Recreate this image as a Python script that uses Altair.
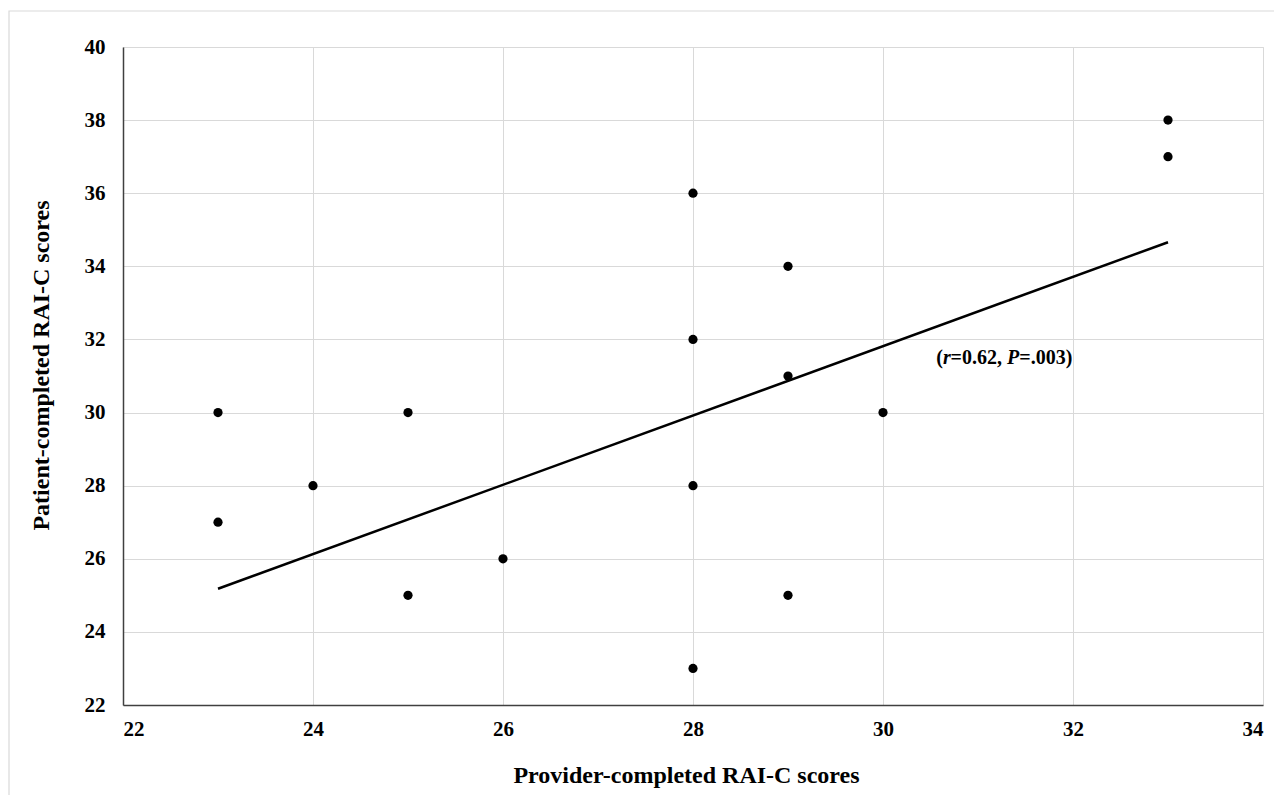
import altair as alt
import pandas as pd

# ---- data ----
provider = [23, 23, 24, 25, 25, 26, 28, 28, 28, 28, 29, 29, 29, 30, 33, 33]
patient = [30, 27, 28, 30, 25, 26, 36, 32, 28, 23, 34, 31, 25, 30, 38, 37]
trend_x = [23, 33]
trend_y = [25.18, 34.66]
x_ticks = [22, 24, 26, 28, 30, 32, 34]
y_ticks = [22, 24, 26, 28, 30, 32, 34, 36, 38, 40]
annot_x = 30.56
annot_y = 31.34
annot_parts = ["(", "r", "=0.62,", "P", "=.003)"]
annot_italic = [False, True, False, True, False]
annot_dx = [0, 6.7, 14.4, 70.8, 83.1]

FONT = "Liberation Serif"
W, H = 1140, 658

pts = pd.DataFrame({"x": provider, "y": patient})
trend = pd.DataFrame({"x": trend_x, "y": trend_y})

xscale = alt.Scale(domain=[22, 34], nice=False, zero=False)
yscale = alt.Scale(domain=[22, 40], nice=False, zero=False)

xaxis = alt.Axis(
    title="Provider-completed RAI-C scores",
    values=x_ticks, format="d", grid=True, gridColor="#d9d9d9", gridWidth=1,
    domainColor="#404040", domainWidth=1.5, ticks=False,
    labelFont=FONT, labelFontSize=21, labelFontWeight="bold", labelColor="#000000",
    labelPadding=13,
    titleFont=FONT, titleFontSize=24, titleFontWeight="bold", titleColor="#000000",
    titleX=563, titleY=77, titleBaseline="alphabetic", titleAnchor="middle",
)
yaxis = alt.Axis(
    title="Patient-completed RAI-C scores",
    values=y_ticks, format="d", grid=True, gridColor="#d9d9d9", gridWidth=1,
    domainColor="#404040", domainWidth=1.5, ticks=False,
    labelFont=FONT, labelFontSize=21, labelFontWeight="bold", labelColor="#000000",
    labelPadding=18,
    titleFont=FONT, titleFontSize=24, titleFontWeight="bold", titleColor="#000000",
    titleX=-75, titleY=318, titleBaseline="alphabetic", titleAngle=270, titleAnchor="middle",
)

frame = alt.Chart(pd.DataFrame({"a": [0]})).mark_rect(
    fill=None, stroke="#d9d9d9", strokeWidth=1.2
).encode(
    x=alt.value(-114), x2=alt.value(W + 40), y=alt.value(-36), y2=alt.value(H + 140)
)

points = alt.Chart(pts).mark_circle(size=85, color="#000000", opacity=1).encode(
    x=alt.X("x:Q", scale=xscale, axis=xaxis),
    y=alt.Y("y:Q", scale=yscale, axis=yaxis),
)

line = alt.Chart(trend).mark_line(color="#000000", strokeWidth=2.5).encode(
    x=alt.X("x:Q", scale=xscale), y=alt.Y("y:Q", scale=yscale)
)

texts = []
for part, it, dx in zip(annot_parts, annot_italic, annot_dx):
    texts.append(
        alt.Chart(pd.DataFrame({"x": [annot_x], "y": [annot_y], "t": [part]}))
        .mark_text(
            align="left", baseline="alphabetic", dx=dx, font=FONT, fontSize=20,
            fontWeight="bold", fontStyle="italic" if it else "normal", color="#000000",
        )
        .encode(x=alt.X("x:Q", scale=xscale), y=alt.Y("y:Q", scale=yscale), text="t:N")
    )

chart = alt.layer(frame, points, line, *texts).properties(
    width=W, height=H,
    autosize=alt.AutoSizeParams(type="none"),
    padding={"left": 115, "top": 39, "right": 11, "bottom": 90},
).configure_view(stroke=None).configure(background="white")

chart.save("out.html", embed_options={"renderer": "svg", "actions": False})
